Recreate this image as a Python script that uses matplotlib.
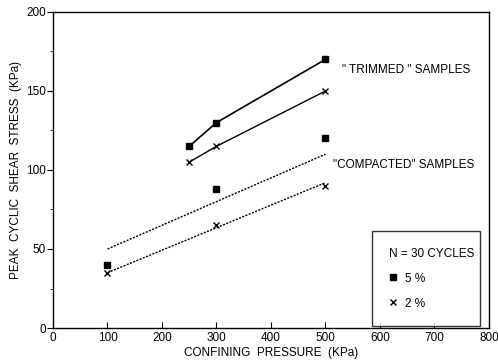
import matplotlib
matplotlib.use('Agg')
import matplotlib.pyplot as plt
from matplotlib.lines import Line2D

plt.rcParams['font.family'] = ['Liberation Sans', 'DejaVu Sans']

# trimmed samples (solid lines through the points)
trim_x = [250, 300, 500]
trim_5 = [115, 130, 170]
trim_2 = [105, 115, 150]

# compacted samples (points + fitted dotted lines)
comp_x = [100, 300, 500]
comp_5 = [40, 88, 120]
comp_2 = [35, 65, 90]
fit_x = [100, 500]
fit_5 = [50, 110]
fit_2 = [35, 92]

xticks = [0, 100, 200, 300, 400, 500, 600, 700, 800]
yticks = [0, 50, 100, 150, 200]

fig = plt.figure(figsize=(4.98, 3.63), dpi=100)
ax = fig.add_axes([0.1064, 0.0964, 0.8755, 0.8706])

ax.plot(trim_x, trim_5, '-', color='black', lw=1.2, marker='s', ms=4.5)
ax.plot(trim_x, trim_2, '-', color='black', lw=1.0, marker='x', ms=5, mew=1.0)

ax.plot(comp_x, comp_5, 's', color='black', ms=4.5)
ax.plot(comp_x, comp_2, 'x', color='black', ms=5, mew=1.0)
ax.plot(fit_x, fit_5, color='black', lw=1.0, ls=(0, (1.5, 1)))
ax.plot(fit_x, fit_2, color='black', lw=1.0, ls=(0, (1.5, 1)))

ax.text(530, 163, '" TRIMMED " SAMPLES', fontsize=8.5, va='center', ha='left')
ax.text(513, 103, '"COMPACTED" SAMPLES', fontsize=8.5, va='center', ha='left')

ax.set_xlim(0, 800)
ax.set_ylim(0, 200)
ax.set_xticks(xticks)
ax.set_yticks(yticks)
ax.set_yticks([25, 75, 125, 175], minor=True)
ax.tick_params(axis='x', direction='in', length=4, labelsize=8.5, pad=3)
ax.tick_params(axis='y', direction='out', length=4, labelsize=8.5, pad=1)
ax.tick_params(axis='y', which='minor', direction='out', length=2.5)
for s in ax.spines.values():
    s.set_linewidth(1.0)

ax.set_xlabel('CONFINING  PRESSURE  (KPa)', fontsize=8.5, labelpad=2)
ax.set_ylabel('PEAK  CYCLIC  SHEAR  STRESS  (KPa)', fontsize=8.5, labelpad=3)

handles = [Line2D([], [], ls='none', marker='s', color='black', ms=4.5),
           Line2D([], [], ls='none', marker='x', color='black', ms=5, mew=1.0)]
leg = ax.legend(handles, ['5 %', '2 %'], title='N = 30 CYCLES',
                loc='lower left', bbox_to_anchor=(0.732, 0.006, 0.247, 0.32),
                mode='expand', frameon=True, fancybox=False, shadow=False,
                edgecolor='black', fontsize=8.5, title_fontsize=8.5,
                handlelength=0.8, handletextpad=0.6, labelspacing=1.1,
                borderpad=1.4, borderaxespad=0)
leg.get_frame().set_linewidth(1.0)
leg._legend_box.align = 'left'

fig.savefig('out.png', dpi=100)
